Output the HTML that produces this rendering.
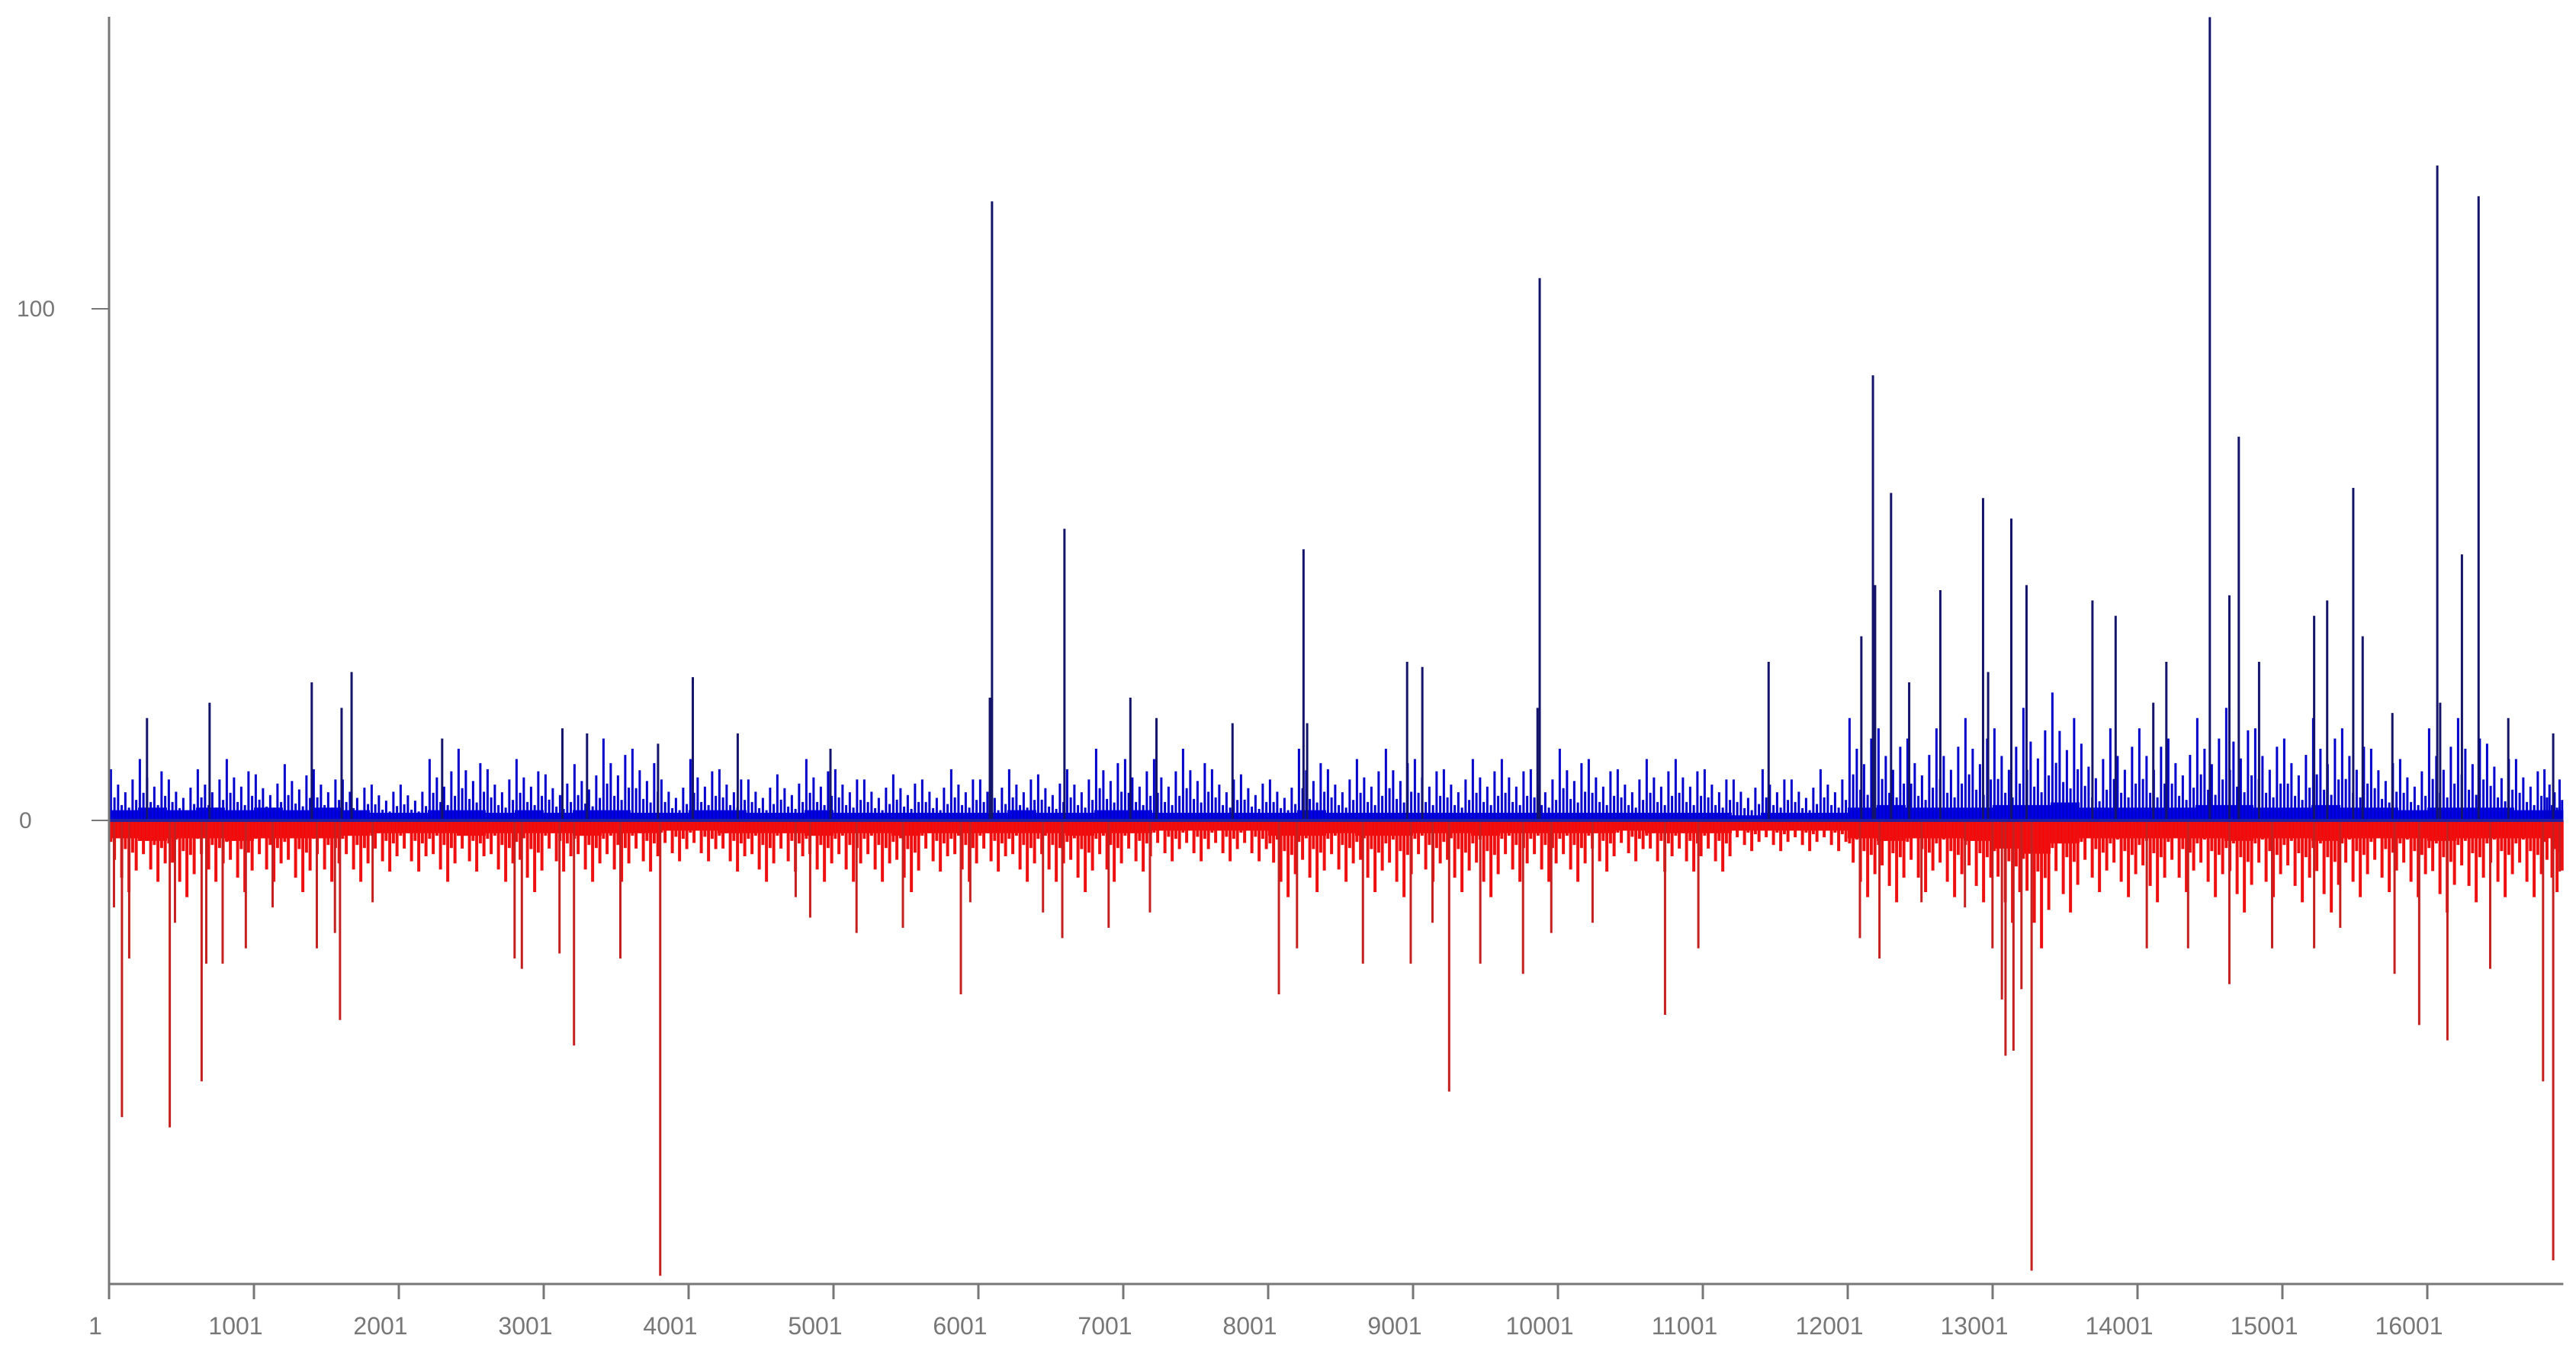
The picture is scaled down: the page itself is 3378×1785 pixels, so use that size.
<!DOCTYPE html>
<html><head><meta charset="utf-8"><style>
html,body{margin:0;padding:0;background:#fff;}
svg{display:block;}
text{font-family:"Liberation Sans",sans-serif;fill:#777;}
</style></head><body>
<svg id="chart" width="3378" height="1785" viewBox="0 0 3378 1785" xmlns="http://www.w3.org/2000/svg">
<g id="bars"></g>
<g id="axes"></g>
</svg>
<script>
const xTicks=[1,1001,2001,3001,4001,5001,6001,7001,8001,9001,10001,11001,12001,13001,14001,15001,16001];
const yTicks=[0,100];
const binSize=200;
const blueBase=[2,2.5,2,2.5,2,2.5,2,2.5,2,1.5, 1.5,2,2,1.5,2,1.5,2,2,1.5,1.5, 2,2,1.5,1.5,2,1.5,1.5,1.5,1.5,1.5, 1.5,2,1.5,1.5,2,2,1.5,1.5,1.5,1.5, 1.5,2,1.5,1.5,1.5,1.5,1.5,1.5,1.5,1.5, 1.5,1.5,1.5,1.5,1.5,1.5,1,1.5,1.5,1.5, 2.5,3,2.5,2.5,2.5,3,3,3.5,2.5,2.5, 2.5,2.5,3,3,2.5,2.5,3,2.5,2.5,2, 2.5,2.5,2.5,2,2];
const bluePeak=[10,12,8,10,12,9,11,10,8,7, 7,12,14,10,12,9,11,16,14,8, 12,10,8,9,12,10,8,9,8,10, 8,10,9,10,14,12,12,14,10,9, 8,14,10,12,14,12,10,12,12,10, 14,12,10,12,12,10,8,10,8,10, 20,18,16,18,20,18,22,25,15,18, 18,16,20,22,18,16,20,18,14,12, 18,20,15,12,10];
const redBase=[-3.5,-4,-3.5,-3.5,-4,-3.5,-3.5,-3.5,-3,-2.5, -2.5,-2.5,-3,-2.5,-2.5,-2.5,-3,-2.5,-2.5,-2, -2,-2.5,-2.5,-2.5,-3,-2.5,-2.5,-3,-2.5,-2.5, -2.5,-2.5,-2.5,-3,-2.5,-2.5,-2,-2,-2,-2, -3,-3,-2.5,-3,-3,-2.5,-2.5,-3,-2.5,-2.5, -2.5,-2.5,-2,-2.5,-2.5,-2.5,-2,-2,-2,-2, -3.5,-4,-3.5,-3.5,-4,-5.5,-6.5,-4.5,-3.5,-3.5, -3.5,-3.5,-3.5,-4,-3.5,-3.5,-4,-3.5,-3.5,-3.5, -4,-3.5,-3.5,-3.5,-3];
const redPeak=[-14,-12,-15,-12,-14,-12,-14,-12,-12,-10, -10,-12,-10,-12,-14,-10,-12,-12,-10,-8, -8,-10,-12,-10,-12,-12,-12,-14,-10,-12, -10,-12,-12,-14,-12,-10,-8,-8,-8,-8, -15,-14,-12,-14,-15,-12,-14,-15,-12,-12, -12,-10,-8,-10,-10,-10,-6,-6,-6,-6, -15,-16,-14,-15,-16,-20,-25,-18,-14,-15, -16,-14,-15,-18,-15,-16,-18,-15,-14,-15, -18,-16,-15,-15,-14];
const blueSpikeIdx=[263,695,1400,1606,1675,2300,3130,3300,3790,4030,4340,4980,6080,6095,6595,7050,7230,7755,8245,8270,8960,9065,9860,9875,11455,12095,12175,12190,12300,12425,12640,12935,12970,13130,13235,13690,13850,14110,14200,14500,14635,14700,14840,15220,15310,15490,15555,15760,16070,16090,16240,16355,16560,16870];
const blueSpikeVal=[20,23,27,22,29,16,18,17,15,28,17,14,24,121,57,24,20,19,53,19,31,30,22,106,31,36,87,46,64,27,45,63,29,59,46,43,40,23,31,157,44,75,31,40,43,65,36,21,128,23,52,122,20,17];
const redSpikeIdx=[35,90,140,420,456,640,672,785,945,1130,1435,1560,1595,1820,2800,2850,3110,3210,3530,3805,4740,4840,5160,5480,5880,5945,6447,6580,6900,7185,8075,8200,8655,8985,9135,9250,9465,9760,9955,10240,10740,10970,12085,12220,12510,12810,13000,13065,13090,13145,13200,13270,14065,14350,14635,14930,15220,15400,15775,15945,16140,16435,16800,16870,16915];
const redSpikeVal=[-17,-58,-27,-60,-20,-51,-28,-28,-25,-17,-25,-22,-39,-16,-27,-29,-26,-44,-27,-89,-15,-19,-22,-21,-34,-16,-18,-23,-21,-18,-34,-25,-28,-28,-20,-53,-28,-30,-22,-20,-38,-25,-23,-27,-16,-17,-25,-35,-46,-45,-33,-88,-25,-25,-32,-25,-25,-21,-30,-40,-43,-29,-51,-86,-10];

const X0=143, Xk=190.0;
const Y0=1076, Yk=6.71;
const xMax=16940;
const fracs=[1,0.45,0.7,0.3,0.55,0.25,0.8,0.4];
function xs(i){return X0+(i-1)/1000*Xk;}
function ys(v){return Y0-v*Yk;}
const NS='http://www.w3.org/2000/svg';
const bars=document.getElementById('bars');
const axes=document.getElementById('axes');
function mk(tag,attrs,parent){const e=document.createElementNS(NS,tag);for(const k in attrs)e.setAttribute(k,attrs[k]);parent.appendChild(e);return e;}

for(let b=0;b<blueBase.length;b++){
  const i0=b*binSize+1, i1=Math.min((b+1)*binSize+1,xMax);
  const x0=xs(i0), x1=xs(i1), w=x1-x0;
  if(w<=0) continue;
  let r=mk('rect',{x:x0,y:ys(blueBase[b]),width:w,height:Y0-ys(blueBase[b]),fill:'#0000ee'},bars);
  
  
  let r2=mk('rect',{x:x0,y:Y0,width:w,height:ys(redBase[b])-Y0,fill:'#ff0000'},bars);
  
  
  for(let j=0;j<fracs.length;j++){
    const xc=x0+w*(j+0.5)/fracs.length;
    const fb=fracs[j], fr=fracs[(j+3)%fracs.length];
    let l=mk('line',{x1:xc,x2:xc,y1:Y0,y2:ys(Math.max(blueBase[b],bluePeak[b]*fb)),stroke:'#0000cc','stroke-width':3},bars);
    
    
    let l2=mk('line',{x1:xc,x2:xc,y1:Y0,y2:ys(Math.min(redBase[b],redPeak[b]*fr)),stroke:'#ee1010','stroke-width':4},bars);
    
    
  }
}
for(let k=0;k<blueSpikeIdx.length;k++){
  const x=xs(blueSpikeIdx[k]);
  let l=mk('line',{x1:x,x2:x,y1:Y0,y2:ys(blueSpikeVal[k]),stroke:'#14146a','stroke-width':3},bars);
  
  
}
for(let k=0;k<redSpikeIdx.length;k++){
  const x=xs(redSpikeIdx[k]);
  let l=mk('line',{x1:x,x2:x,y1:Y0,y2:ys(redSpikeVal[k]),stroke:'#c42020','stroke-width':3},bars);
  
  
}
let z=mk('line',{x1:X0,x2:xs(xMax),y1:Y0,y2:Y0,stroke:'#2020a0','stroke-width':4},axes);


let ya=mk('line',{x1:X0,x2:X0,y1:22,y2:1684,stroke:'#777','stroke-width':3},axes);


let xa=mk('line',{x1:X0,x2:xs(xMax),y1:1684,y2:1684,stroke:'#777','stroke-width':3},axes);


yTicks.forEach(v=>{
  let t=mk('line',{x1:120,x2:X0,y1:ys(v),y2:ys(v),stroke:'#777','stroke-width':2},axes);
  
  
  let tx=mk('text',{x:v===0?25:22,y:ys(v)+10,'font-size':30},axes);
  tx.textContent=String(v);
  
  
});
xTicks.forEach(v=>{
  const x=xs(v);
  let t=mk('line',{x1:x,x2:x,y1:1684,y2:1704,stroke:'#777','stroke-width':3},axes);
  
  
  let tx=mk('text',{x:v===1?x-18:x-24,y:1750,'font-size':32,'text-anchor':'middle'},axes);
  tx.textContent=String(v);
  
  
});
</script>
</body></html>
